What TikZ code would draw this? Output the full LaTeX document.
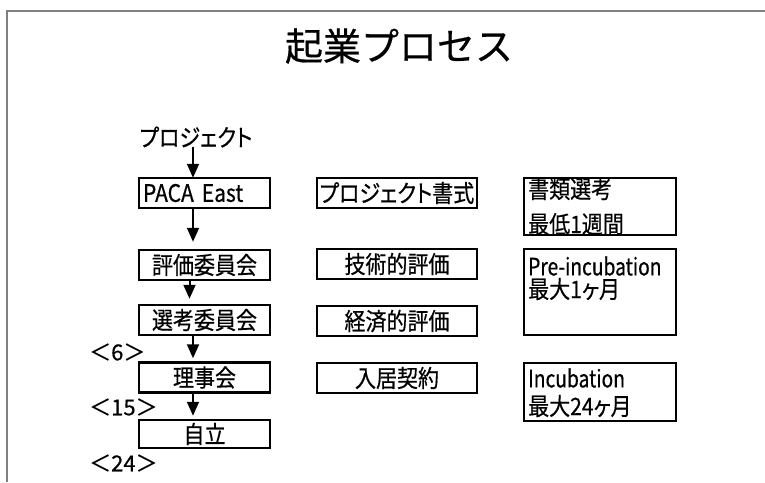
\documentclass[tikz,border=0pt]{standalone}
\usepackage{fontspec}
\setmainfont{Noto Sans CJK JP}
\newfontfamily\jp[FakeBold=0.5]{Noto Sans CJK JP}
\newfontfamily\jpp[RawFeature=+palt, FakeStretch=0.875, FakeBold=0.5]{Noto Sans CJK JP}
\newfontfamily\jpl[RawFeature=+palt, FakeStretch=0.8, FakeBold=0.5]{Noto Sans CJK JP}
\usetikzlibrary{arrows.meta}
\definecolor{framec}{RGB}{128,128,128}
\tikzset{
  frameline/.style={draw=framec, line width=2},
  boxbase/.style={draw=black, line width=2.5, inner sep=0pt, font=\fontsize{24}{28}\selectfont\jpp},
  lbox/.style={boxbase, minimum width=131, minimum height=30},
  mbox/.style={boxbase, minimum width=160, minimum height=30},
  rbox/.style={boxbase, minimum width=152},
  rtext/.style={anchor=west, inner sep=0pt, font=\fontsize{24}{28}\selectfont\jpp},
  ltext/.style={anchor=west, inner sep=0pt, font=\fontsize{24}{28}\selectfont\jpl},
  mtext/.style={anchor=west, inner sep=0pt, font=\fontsize{22}{26}\selectfont\jp},
  flow/.style={draw=black, line width=2, -{Triangle[length=14,width=12]}},
}
\begin{document}
\begin{tikzpicture}[x=1pt,y=-1pt]
\useasboundingbox (0,0) rectangle (765,482);
\draw[frameline] (765,10.5) -- (7,10.5) -- (7,482);

\node[inner sep=0pt, font=\fontsize{38}{42}\selectfont\jp] (title) at (399,46) {起業プロセス};

\node[inner sep=0pt, font=\fontsize{24}{28}\selectfont\jpp] (proj) at (196,137) {プロジェクト};

\node[lbox, text width=123, align=left] (paca) at (204.5,193) {PACA East};
\node[lbox] (hyoka) at (204.5,265) {評価委員会};
\node[lbox] (senko) at (204.5,320) {選考委員会};
\node[lbox] (riji) at (204.5,377.5) {理事会};
\node[lbox, minimum height=28] (jiritsu) at (204.5,434) {自立};

\node[mtext] (m6) at (89,352) {＜6＞};
\node[mtext] (m15) at (89,407) {＜15＞};
\node[mtext] (m24) at (89,463) {＜24＞};

\node[mbox] (shoshiki) at (397,193) {プロジェクト書式};
\node[mbox] (gijutsu) at (397,264) {技術的評価};
\node[mbox] (keizai) at (397,321) {経済的評価};
\node[mbox] (nyukyo) at (397,378) {入居契約};

\node[rbox, minimum height=57] (r1) at (600,206.5) {};
\node[rbox, minimum height=86] (r2) at (600,292) {};
\node[rbox, minimum height=58] (r3) at (600,392) {};

\node[rtext] (r1a) at (528,189) {書類選考};
\node[rtext] (r1b) at (528,224) {最低1週間};
\node[ltext] (r2a) at (528,266) {Pre-incubation};
\node[rtext] (r2b) at (528,289) {最大1ヶ月};
\node[ltext] (r3a) at (528,378) {Incubation};
\node[rtext] (r3b) at (528,406) {最大24ヶ月};

\draw[flow] ([xshift=-3,yshift=1]proj.south) -- ([xshift=-11.5,yshift=-1]paca.north);
\draw[flow, shorten >=7] ([xshift=-11.5]paca.south) -- ([xshift=-11.5]hyoka.north);
\draw[flow, shorten >=5] ([xshift=-15]hyoka.south) -- ([xshift=-15]senko.north);
\draw[flow, shorten >=3] ([xshift=-11.5]senko.south) -- ([xshift=-11.5]riji.north);
\draw[flow, shorten >=3] ([xshift=-11.5]riji.south) -- ([xshift=-11.5]jiritsu.north);
\end{tikzpicture}
\end{document}
